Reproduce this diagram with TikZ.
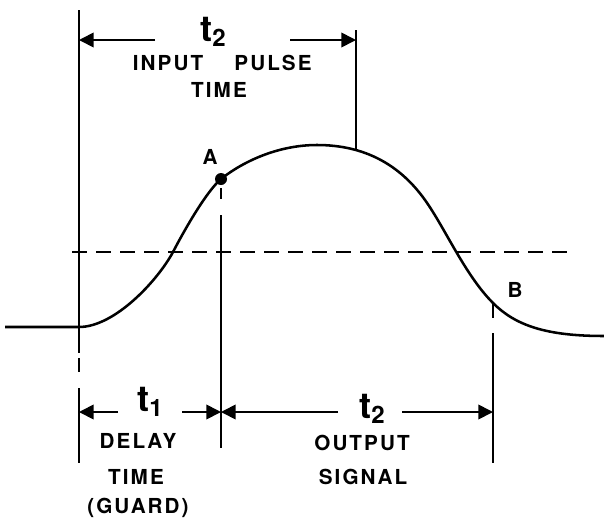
\documentclass[tikz,border=0pt]{standalone}
\usepackage{fontspec}
\usepackage{tikz}
\usetikzlibrary{arrows.meta}
\newfontfamily\letterfont[LetterSpace=10]{TeX Gyre Heros}
\newcommand{\tsym}[1]{{\fontsize{27}{27}\selectfont t}\raisebox{-0.6ex}{\fontsize{18}{18}\selectfont #1}}
\tikzset{
  pulsecurve/.style={line width=1.9pt, line join=round},
  pulserule/.style={line width=1.3pt},
  pulsedash/.style={line width=1.3pt, dash pattern=on 11pt off 7pt},
  pulsearrow/.style={line width=1.3pt, -{Triangle[length=11pt,width=11pt]}},
  pulselabel/.style={font=\letterfont\bfseries\fontsize{15.5}{18}\selectfont, inner sep=0pt},
  pulsetime/.style={font=\letterfont\bfseries, inner sep=0pt}
}
\begin{document}
\begin{tikzpicture}[x=0.75pt, y=-0.75pt]
\useasboundingbox (0,0) rectangle (604,522);
% key points of the pulse
\coordinate (start) at (5,327);
\coordinate (foot) at (79,327);
\coordinate (mid1) at (173,252);
\coordinate (A) at (221,179);
\coordinate (peak) at (317,145);
\coordinate (top) at (356,150);
\coordinate (fall) at (425,200);
\coordinate (B) at (493,303);
\coordinate (finish) at (604,336);

% output pulse
\draw[pulsecurve] (start) -- (foot)
  .. controls (115,327) and (158,280) .. (mid1)
  .. controls (186,227) and (207,191) .. (A)
  .. controls (245,160) and (280,145) .. (peak)
  .. controls (365,145) and (400,165) .. (fall)
  .. controls (445,228) and (465,275) .. (B)
  .. controls (515,325) and (545,336) .. (finish);
\fill (A) circle[radius=4.5pt];

% half amplitude level
\coordinate (lvlL) at (72,252);
\coordinate (lvlR) at (572,252);
\draw[pulsedash] (lvlL) -- (lvlR);

% left reference line
\coordinate (l0) at (79,10);
\coordinate (l1) at (79,353);
\coordinate (l2) at (79,358);
\coordinate (l3) at (79,372);
\coordinate (l4) at (79,388);
\coordinate (l5) at (79,463);
\draw[pulserule] (l0) -- (l1) (l2) -- (l3) (l4) -- (l5);

% end of input pulse
\coordinate (r0) at (356,30);
\draw[pulserule] (r0) -- (top);

% lines at A and B
\coordinate (a1) at (221,188);
\coordinate (a2) at (221,199);
\coordinate (a3) at (221,215);
\coordinate (a4) at (221,448);
\draw[pulserule] (a1) -- (a2) (a3) -- (a4);
\coordinate (b1) at (493,318);
\coordinate (b2) at (493,333);
\coordinate (b3) at (493,463);
\draw[pulserule] (B) -- (b1) (b2) -- (b3);

% input pulse time
\node[pulsetime] (tin) at (213,32) {\tsym{2}};
\coordinate (inL) at (79,40);
\coordinate (inR) at (356,40);
\draw[pulsearrow] (155,40) -- (inL);
\draw[pulsearrow] (290,40) -- (inR);
\node[pulselabel] (input) at (168,63) {INPUT};
\node[pulselabel] (pulse) at (273,63) {PULSE};
\node[pulselabel] (intime) at (219,90) {TIME};

% delay and output times
\node[pulsetime] (tone) at (150,402) {\tsym{1}};
\node[pulsetime] (tout) at (372,409) {\tsym{2}};
\coordinate (dL) at (79,412);
\coordinate (dA) at (221,412);
\coordinate (dB) at (493,412);
\draw[pulsearrow] (118,412) -- (dL);
\draw[pulsearrow] (182,412) -- (dA);
\draw[pulsearrow] (338,412) -- (dA);
\draw[pulsearrow] (402,412) -- (dB);

\node[pulselabel] (delay) at (138,441) {DELAY};
\node[pulselabel] (dtime) at (136,477) {TIME};
\node[pulselabel] (guard) at (138,508) {(GUARD)};
\node[pulselabel] (output) at (362,443) {OUTPUT};
\node[pulselabel] (signal) at (363,477) {SIGNAL};

\node[pulselabel] (lblA) at (210,157) {A};
\node[pulselabel] (lblB) at (515,290) {B};
\end{tikzpicture}
\end{document}
